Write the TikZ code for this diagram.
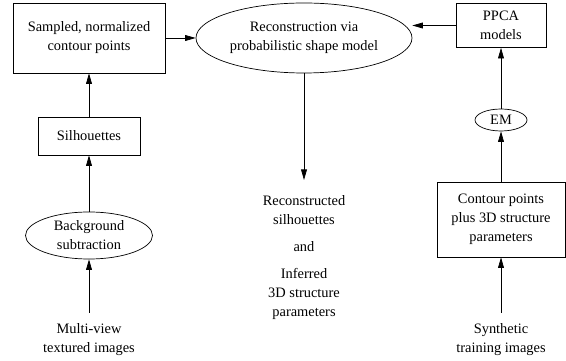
\documentclass[tikz,border=0pt]{standalone}
\usepackage{fontspec}
\setmainfont{Liberation Serif}
\usetikzlibrary{arrows.meta,shapes.geometric}

\begin{document}
\begin{tikzpicture}[line width=.6pt,
    font=\fontsize{12.3}{16.2}\selectfont,
    box/.style={draw,rectangle,align=center,inner sep=0pt},
    oval/.style={draw,ellipse,align=center,inner sep=0pt},
    plain/.style={align=center,anchor=north,inner xsep=0pt,inner ysep=.3cm},
    arr/.style={-{Triangle[length=9pt,width=5pt]}}]
  \useasboundingbox (0,0) rectangle (16.98,10.8);

  % left column
  \node[box,minimum width=4.56cm,minimum height=2.1cm] (samp) at (2.67,9.66)
    {Sampled, normalized\\contour points};
  \node[box,minimum width=3.06cm,minimum height=1.14cm] (silh) at (2.67,6.72)
    {Silhouettes};
  \node[oval,minimum width=3.81cm,minimum height=1.41cm] (bgsub) at (2.67,3.735)
    {Background\\subtraction};
  \node[plain] (multi) at (2.67,1.41) {Multi-view\\textured images};

  % middle
  \node[oval,minimum width=6.48cm,minimum height=2.1cm] (recon) at (9.12,9.66)
    {Reconstruction via\\probabilistic shape model};
  \node[plain,inner ysep=.45cm] (result) at (9.12,5.4)
    {Reconstructed\\silhouettes\\[7pt]and\\[7pt]Inferred\\3D structure\\parameters};

  % right column
  \node[box,minimum width=2.7cm,minimum height=1.32cm] (ppca) at (15.03,10.035)
    {PPCA\\models};
  \node[oval,minimum width=1.56cm,minimum height=.66cm] (em) at (15.03,7.2) {EM};
  \node[box,minimum width=3.84cm,minimum height=2.25cm] (contour) at (15.03,4.215)
    {Contour points\\plus 3D structure\\parameters};
  \node[plain] (synth) at (15.03,1.41) {Synthetic\\training images};

  \draw[arr] (multi) -- (bgsub);
  \draw[arr] (bgsub) -- (silh);
  \draw[arr] (silh) -- (samp);
  \draw[arr] (samp) -- (recon);
  \draw[arr] (ppca.west) -- (ppca.west -| recon.east);
  \draw[arr] (recon) -- (result);
  \draw[arr] (synth) -- (contour);
  \draw[arr] (contour) -- (em);
  \draw[arr] (em) -- (ppca);
\end{tikzpicture}
\end{document}
